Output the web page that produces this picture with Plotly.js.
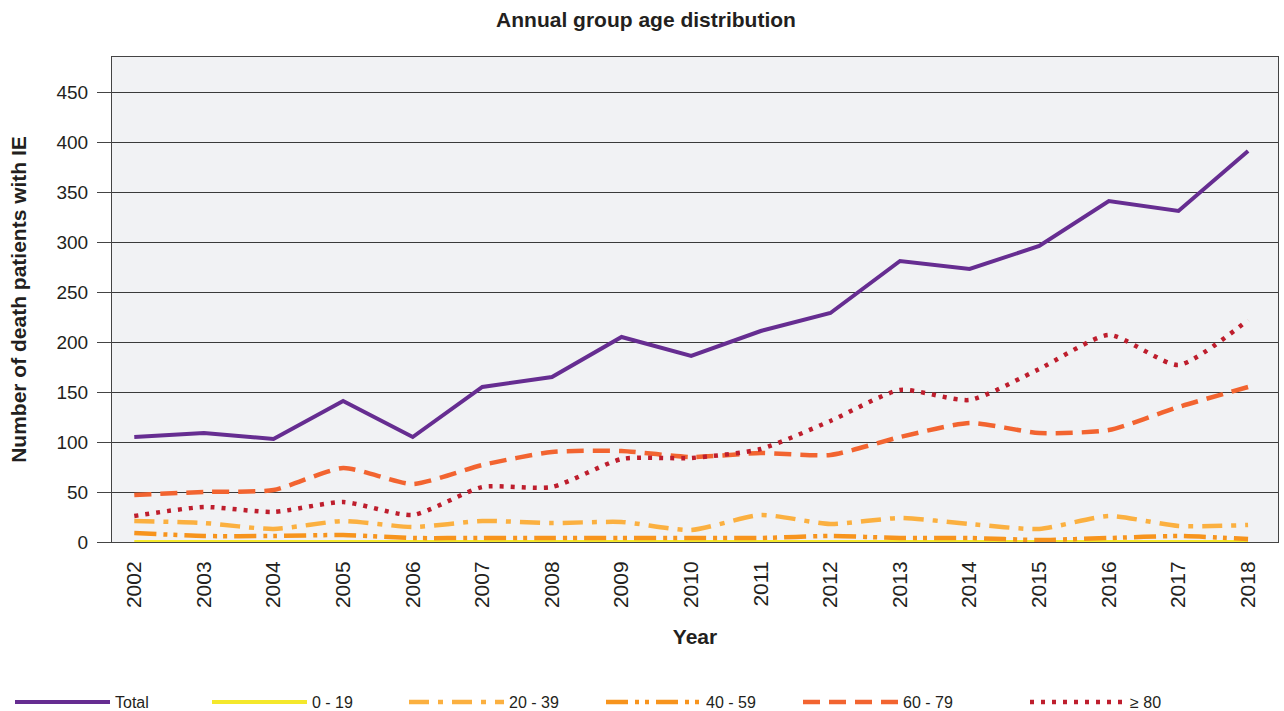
<!DOCTYPE html>
<html>
<head>
<meta charset="utf-8">
<script src="https://cdn.plot.ly/plotly-3.0.1.min.js"></script>
<style>html,body{margin:0;padding:0;background:#fff;}#chart{width:1284px;height:711px;}</style>
</head>
<body>
<div id="chart"></div>
<script>
const years = [2002,2003,2004,2005,2006,2007,2008,2009,2010,2011,2012,2013,2014,2015,2016,2017,2018];
const total   = [105,109,103,141,105,155,165,205,186,211,229,281,273,296,341,331,391];
const age0_19 = [0,0,0,0,0,0,0,0,0,0,0,0,0,0,0,0,0];
const age20_39= [21,19,13,21,15,21,19,20,12,27,18,24,18,13,26,16,17];
const age40_59= [9,6,6,7,4,4,4,4,4,4,6,4,4,2,4,6,3];
const age60_79= [47,50,52,74,58,77,90,91,85,89,87,105,119,109,112,135,155];
const age80   = [26,35,30,40,27,55,55,83,84,93,121,152,142,173,207,177,222];
const names = ["Total","0 - 19","20 - 39","40 - 59","60 - 79","≥ 80"];

const traces = [
  {y: total,    name: names[0], line:{color:'#662d91', width:4, shape:'linear'}},
  {y: age0_19,  name: names[1], line:{color:'#f4e82c', width:4, shape:'linear'}},
  {y: age20_39, name: names[2], line:{color:'#fbb040', width:4.5, dash:'20px,9px,5px,9px', shape:'spline', smoothing:0.6}},
  {y: age40_59, name: names[3], line:{color:'#f7941d', width:4.5, dash:'22px,7px,4px,6px,4px,7px', shape:'spline', smoothing:0.6}},
  {y: age60_79, name: names[4], line:{color:'#f26430', width:4.5, dash:'17px,9px', shape:'spline', smoothing:0.6}},
  {y: age80,    name: names[5], legend:'legend2', line:{color:'#be1e2d', width:4.5, dash:'4px,7px', shape:'spline', smoothing:0.6}}
].map(t => Object.assign({x: years, type:'scatter', mode:'lines', hoverinfo:'skip'}, t));

const legendBase = {orientation:'h', xref:'container', xanchor:'left', yref:'container', yanchor:'middle', y:9/711,
  font:{size:16, color:'#231f20'}, itemwidth:95, entrywidthmode:'pixels', traceorder:'normal', bgcolor:'rgba(0,0,0,0)'};

const layout = {
  width:1284, height:711,
  margin:{l:112, r:6, t:57, b:169},
  paper_bgcolor:'#ffffff',
  plot_bgcolor:'#f1f2f4',
  font:{family:'Liberation Sans, Arial, sans-serif', color:'#231f20'},
  title:{text:'<b>Annual group age distribution</b>', x:646/1284, xref:'container', xanchor:'center', y:1-20/711, yref:'container', yanchor:'middle', font:{size:21, color:'#231f20'}},
  xaxis:{
    type:'linear', range:[2001.68, 2018.43], tickmode:'array', tickvals: years, ticktext: years.map(String),
    tickangle:-90, tickfont:{size:21}, showgrid:false, zeroline:false, ticklabelstandoff:10,
    showline:true, linecolor:'#444', linewidth:1, mirror:true, ticks:'',
    title:{text:'<b>Year</b>', font:{size:21}, standoff:22}
  },
  yaxis:{
    range:[0,485], tickvals:[0,50,100,150,200,250,300,350,400,450], tickfont:{size:19},
    showgrid:true, gridcolor:'#3a3a3a', gridwidth:1, zeroline:false, ticklabelstandoff:5,
    showline:true, linecolor:'#444', linewidth:1, mirror:true,
    ticks:'outside', ticklen:14, tickcolor:'#444',
    title:{text:'<b>Number of death patients with IE</b>', font:{size:21}, standoff:24}
  },
  showlegend:true,
  legend: Object.assign({}, legendBase, {x:10/1284, entrywidth:87}),
  legend2: Object.assign({}, legendBase, {x:1025/1284, entrywidth:60})
};
Plotly.newPlot('chart', traces, layout, {displayModeBar:false, staticPlot:true});
</script>
</body>
</html>
